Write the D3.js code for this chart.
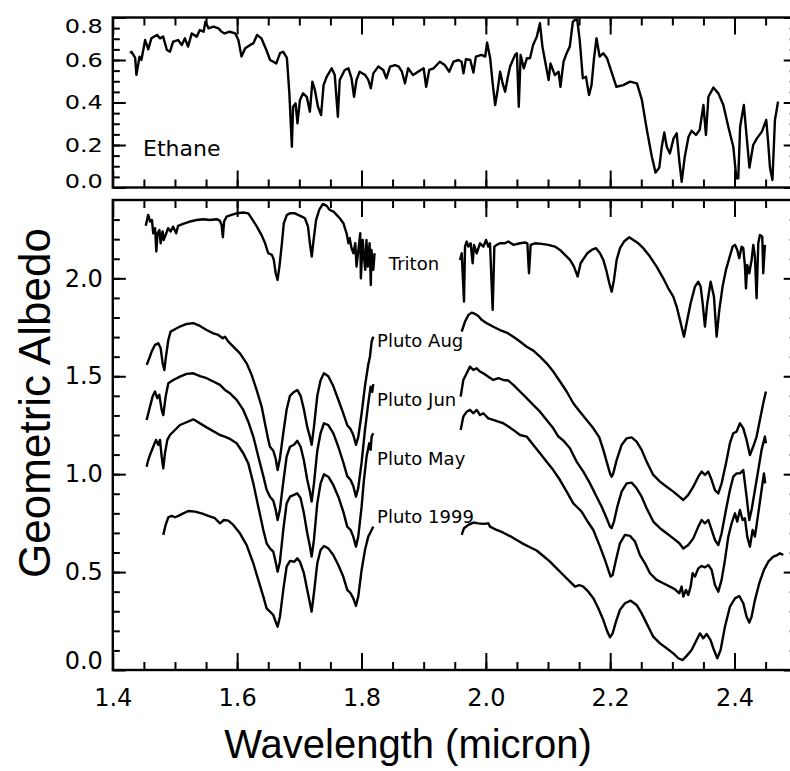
<!DOCTYPE html>
<html>
<head>
<meta charset="utf-8">
<script src="https://cdn.jsdelivr.net/npm/d3@7"></script>
<style>
  body { margin: 0; background: #fff; }
  svg  { display: block; }
</style>
</head>
<body>
<svg id="chart"></svg>
<script>
/* ── Ticks ── */
const xMajor     = [1.4, 1.6, 1.8, 2.0, 2.2, 2.4];
const topYMajor  = [0.0, 0.2, 0.4, 0.6, 0.8];
const botYMajor  = [0.0, 0.5, 1.0, 1.5, 2.0];

/* ── Spectra: [wavelength (micron), geometric albedo] ── */
const ethane = [
  [1.428,0.632],[1.430,0.639],[1.436,0.610],[1.438,0.530],[1.443,0.616],[1.446,0.600],[1.452,0.694],[1.457,0.650],
  [1.462,0.702],[1.471,0.718],[1.476,0.702],[1.481,0.710],[1.487,0.647],[1.492,0.639],[1.497,0.686],[1.505,0.694],
  [1.511,0.671],[1.516,0.702],[1.521,0.663],[1.527,0.725],[1.535,0.710],[1.540,0.741],[1.546,0.733],[1.549,0.780],
  [1.554,0.749],[1.562,0.757],[1.570,0.749],[1.575,0.733],[1.580,0.725],[1.588,0.733],[1.597,0.725],[1.602,0.694],
  [1.607,0.616],[1.613,0.655],[1.621,0.671],[1.626,0.678],[1.632,0.718],[1.639,0.702],[1.647,0.647],[1.653,0.600],
  [1.663,0.584],[1.669,0.632],[1.674,0.639],[1.680,0.610],[1.684,0.443],[1.688,0.192],[1.690,0.380],[1.694,0.396],
  [1.697,0.302],[1.701,0.412],[1.706,0.443],[1.712,0.427],[1.717,0.357],[1.721,0.498],[1.725,0.459],[1.730,0.380],
  [1.735,0.341],[1.739,0.482],[1.744,0.521],[1.752,0.561],[1.757,0.529],[1.762,0.333],[1.765,0.506],[1.773,0.553],
  [1.779,0.561],[1.784,0.514],[1.788,0.427],[1.792,0.506],[1.797,0.545],[1.806,0.529],[1.811,0.506],[1.815,0.467],
  [1.819,0.537],[1.827,0.569],[1.835,0.553],[1.840,0.514],[1.846,0.569],[1.854,0.576],[1.860,0.569],[1.865,0.545],
  [1.870,0.490],[1.875,0.561],[1.883,0.529],[1.891,0.545],[1.900,0.561],[1.904,0.474],[1.909,0.553],[1.916,0.561],
  [1.926,0.592],[1.934,0.576],[1.941,0.545],[1.948,0.592],[1.956,0.600],[1.961,0.592],[1.964,0.537],[1.968,0.604],
  [1.975,0.600],[1.980,0.541],[1.984,0.616],[1.993,0.624],[1.999,0.616],[2.002,0.682],[2.007,0.608],[2.011,0.490],
  [2.015,0.388],[2.019,0.459],[2.023,0.545],[2.027,0.490],[2.031,0.451],[2.035,0.514],[2.039,0.569],[2.047,0.624],
  [2.050,0.632],[2.053,0.380],[2.056,0.624],[2.061,0.561],[2.066,0.608],[2.071,0.608],[2.076,0.671],[2.082,0.710],
  [2.087,0.773],[2.091,0.663],[2.095,0.600],[2.101,0.506],[2.104,0.584],[2.111,0.529],[2.117,0.545],[2.120,0.474],
  [2.125,0.592],[2.130,0.632],[2.135,0.663],[2.140,0.780],[2.143,0.788],[2.147,0.790],[2.151,0.694],[2.156,0.514],
  [2.161,0.521],[2.166,0.435],[2.170,0.482],[2.174,0.608],[2.178,0.702],[2.183,0.616],[2.189,0.632],[2.195,0.608],
  [2.202,0.545],[2.210,0.474],[2.221,0.482],[2.232,0.498],[2.243,0.490],[2.251,0.412],[2.259,0.271],[2.267,0.145],
  [2.273,0.070],[2.279,0.094],[2.283,0.192],[2.287,0.259],[2.291,0.192],[2.296,0.160],[2.302,0.231],[2.307,0.255],
  [2.311,0.130],[2.315,0.027],[2.320,0.145],[2.326,0.239],[2.331,0.267],[2.338,0.247],[2.344,0.271],[2.350,0.388],
  [2.354,0.247],[2.358,0.427],[2.366,0.470],[2.374,0.443],[2.382,0.388],[2.390,0.286],[2.398,0.192],[2.403,0.043],
  [2.406,0.043],[2.409,0.286],[2.415,0.388],[2.419,0.255],[2.424,0.094],[2.430,0.200],[2.436,0.231],[2.444,0.263],
  [2.451,0.318],[2.454,0.216],[2.457,0.094],[2.461,0.035],[2.465,0.318],[2.470,0.404]
];

const tritonA = [
  [1.453,2.268],[1.457,2.324],[1.460,2.290],[1.463,2.298],[1.465,2.230],[1.468,2.256],[1.470,2.137],[1.472,2.230],
  [1.475,2.247],[1.477,2.179],[1.480,2.239],[1.482,2.196],[1.486,2.230],[1.489,2.256],[1.493,2.239],[1.497,2.264],
  [1.502,2.230],[1.505,2.268],[1.513,2.278],[1.524,2.290],[1.535,2.298],[1.546,2.302],[1.556,2.298],[1.567,2.302],
  [1.572,2.295],[1.575,2.273],[1.577,2.210],[1.579,2.290],[1.583,2.315],[1.591,2.324],[1.599,2.332],[1.610,2.336],
  [1.618,2.332],[1.623,2.307],[1.631,2.268],[1.639,2.222],[1.645,2.179],[1.650,2.128],[1.656,2.120],[1.659,2.094],
  [1.662,2.026],[1.665,1.992],[1.668,2.060],[1.672,2.179],[1.675,2.281],[1.680,2.324],[1.685,2.332],[1.693,2.332],
  [1.698,2.324],[1.704,2.315],[1.709,2.307],[1.714,2.264],[1.717,2.179],[1.720,2.111],[1.723,2.196],[1.727,2.298],
  [1.732,2.349],[1.738,2.380],[1.744,2.370],[1.749,2.349],[1.755,2.341],[1.760,2.324],[1.765,2.307],[1.771,2.281],
  [1.776,2.230],[1.779,2.179],[1.781,2.205],[1.784,2.154],[1.787,2.128],[1.790,2.179],[1.792,2.060],[1.795,2.145],
  [1.798,2.230],[1.799,2.000],[1.802,2.196],[1.804,2.111],[1.806,2.043],[1.808,2.196],[1.810,2.060],[1.813,2.179],
  [1.815,1.966],[1.816,2.145],[1.819,2.043],[1.821,2.128]
];
const tritonB = [
  [1.9585,2.094],[1.9612,2.128],[1.9649,1.881],[1.9665,2.162],[1.9692,2.188],[1.9719,2.162],[1.9756,2.179],[1.9788,2.077],
  [1.9810,2.171],[1.9853,2.128],[1.9906,2.179],[1.9960,2.162],[2.0003,2.196],[2.0040,2.162],[2.0067,2.179],[2.0110,1.839],
  [2.0137,2.162],[2.0174,2.171],[2.0228,2.179],[2.0308,2.179],[2.0362,2.188],[2.0442,2.171],[2.0550,2.179],[2.0630,2.183],
  [2.0668,2.179],[2.0694,2.026],[2.0721,2.171],[2.0791,2.179],[2.0898,2.176],[2.1005,2.171],[2.1112,2.162],[2.1193,2.145],
  [2.1273,2.120],[2.1354,2.094],[2.1418,2.060],[2.1477,2.009],[2.1525,2.077],[2.1579,2.103],[2.1632,2.128],[2.1702,2.145],
  [2.1772,2.154],[2.1836,2.128],[2.1890,2.094],[2.1943,2.034],[2.1986,1.975],[2.2024,1.932],[2.2061,1.992],[2.2104,2.094],
  [2.2158,2.154],[2.2222,2.188],[2.2308,2.210],[2.2372,2.196],[2.2452,2.179],[2.2533,2.154],[2.2640,2.111],[2.2747,2.060],
  [2.2854,2.000],[2.2935,1.949],[2.3015,1.907],[2.3069,1.856],[2.3122,1.788],[2.3187,1.702],[2.3240,1.788],[2.3294,1.873],
  [2.3364,1.958],[2.3417,1.983],[2.3455,1.958],[2.3487,1.873],[2.3524,1.754],[2.3562,1.873],[2.3616,1.983],[2.3669,1.907],
  [2.3712,1.702],[2.3755,1.839],[2.3808,1.958],[2.3862,2.043],[2.3916,2.103],[2.3969,2.162],[2.4007,2.171],[2.4044,2.145],
  [2.4076,2.103],[2.4114,2.162],[2.4141,2.154],[2.4168,2.060],[2.4184,1.949],[2.4205,2.068],[2.4237,2.026],[2.4275,2.094],
  [2.4302,2.171],[2.4328,2.111],[2.4355,1.898],[2.4382,2.179],[2.4409,2.222],[2.4446,2.213],[2.4462,2.026],[2.4489,2.171]
];

const plutoAugA = [
  [1.4545,1.558],[1.4587,1.592],[1.4625,1.626],[1.4678,1.660],[1.4732,1.668],[1.4770,1.643],[1.4802,1.566],[1.4829,1.532],
  [1.4855,1.600],[1.4893,1.685],[1.4930,1.728],[1.5000,1.740],[1.5080,1.754],[1.5188,1.767],[1.5295,1.771],[1.5402,1.757],
  [1.5509,1.736],[1.5617,1.719],[1.5697,1.711],[1.5767,1.694],[1.5804,1.702],[1.5858,1.677],[1.5938,1.651],[1.6045,1.617],
  [1.6153,1.566],[1.6233,1.507],[1.6313,1.430],[1.6394,1.345],[1.6447,1.260],[1.6501,1.175],[1.6528,1.140],[1.6581,1.120],
  [1.6619,1.080],[1.6651,1.021],[1.6688,1.080],[1.6742,1.210],[1.6796,1.330],[1.6850,1.400],[1.6914,1.420],[1.6967,1.430],
  [1.7021,1.400],[1.7074,1.330],[1.7128,1.240],[1.7171,1.190],[1.7198,1.150],[1.7235,1.240],[1.7289,1.400],[1.7342,1.480],
  [1.7396,1.515],[1.7466,1.500],[1.7546,1.450],[1.7627,1.380],[1.7707,1.310],[1.7771,1.250],[1.7825,1.230],[1.7868,1.200],
  [1.7911,1.150],[1.7948,1.190],[1.8002,1.310],[1.8056,1.450],[1.8109,1.560],[1.8136,1.600],[1.8163,1.677],[1.8190,1.702]
];
const plutoAugB = [
  [1.9611,1.728],[1.9665,1.779],[1.9719,1.813],[1.9772,1.825],[1.9826,1.818],[1.9879,1.808],[1.9933,1.788],[2.0013,1.771],
  [2.0120,1.753],[2.0228,1.736],[2.0335,1.723],[2.0442,1.702],[2.0549,1.677],[2.0657,1.651],[2.0764,1.631],[2.0871,1.600],
  [2.0978,1.566],[2.1085,1.524],[2.1193,1.473],[2.1300,1.422],[2.1407,1.362],[2.1514,1.319],[2.1621,1.277],[2.1729,1.234],
  [2.1825,1.188],[2.1890,1.124],[2.1943,1.064],[2.1997,1.004],[2.2023,0.987],[2.2050,1.004],[2.2104,1.072],[2.2184,1.149],
  [2.2265,1.183],[2.2345,1.188],[2.2425,1.166],[2.2506,1.124],[2.2586,1.064],[2.2693,0.996],[2.2801,0.962],[2.2908,0.936],
  [2.3015,0.911],[2.3112,0.885],[2.3176,0.868],[2.3256,0.894],[2.3337,0.936],[2.3417,0.987],[2.3471,1.013],[2.3524,0.996],
  [2.3578,1.013],[2.3632,0.970],[2.3685,0.919],[2.3739,0.902],[2.3792,0.953],[2.3862,1.055],[2.3926,1.158],[2.3980,1.209],
  [2.4033,1.217],[2.4087,1.260],[2.4141,1.234],[2.4194,1.175],[2.4248,1.098],[2.4301,1.141],[2.4355,1.192],[2.4408,1.277],
  [2.4462,1.362],[2.4505,1.422]
];

const plutoJunA = [
  [1.4544,1.277],[1.4598,1.345],[1.4640,1.396],[1.4678,1.422],[1.4716,1.388],[1.4748,1.405],[1.4786,1.328],[1.4812,1.302],
  [1.4850,1.396],[1.4893,1.464],[1.4973,1.481],[1.5080,1.498],[1.5188,1.512],[1.5295,1.515],[1.5402,1.501],[1.5509,1.490],
  [1.5617,1.473],[1.5724,1.456],[1.5804,1.430],[1.5885,1.413],[1.5992,1.379],[1.6099,1.328],[1.6179,1.268],[1.6260,1.192],
  [1.6340,1.090],[1.6421,0.990],[1.6474,0.920],[1.6528,0.885],[1.6581,0.865],[1.6619,0.820],[1.6651,0.766],[1.6688,0.820],
  [1.6742,0.960],[1.6796,1.090],[1.6850,1.140],[1.6914,1.150],[1.6967,1.170],[1.7021,1.140],[1.7074,1.070],[1.7128,0.970],
  [1.7171,0.910],[1.7198,0.860],[1.7235,0.950],[1.7289,1.120],[1.7342,1.210],[1.7396,1.260],[1.7466,1.250],[1.7546,1.210],
  [1.7627,1.140],[1.7707,1.060],[1.7771,0.990],[1.7825,0.970],[1.7868,0.940],[1.7911,0.885],[1.7948,0.930],[1.8002,1.060],
  [1.8056,1.226],[1.8109,1.362],[1.8147,1.447],[1.8173,1.420],[1.8190,1.460]
];
const plutoJunB = [
  [1.9595,1.396],[1.9638,1.481],[1.9692,1.515],[1.9745,1.549],[1.9799,1.532],[1.9853,1.541],[1.9906,1.524],[1.9960,1.515],
  [2.0040,1.498],[2.0120,1.481],[2.0201,1.490],[2.0281,1.481],[2.0362,1.478],[2.0442,1.456],[2.0549,1.422],[2.0657,1.388],
  [2.0764,1.353],[2.0871,1.319],[2.0978,1.277],[2.1085,1.234],[2.1166,1.192],[2.1246,1.172],[2.1353,1.132],[2.1460,1.064],
  [2.1568,1.013],[2.1675,0.953],[2.1782,0.885],[2.1863,0.834],[2.1943,0.775],[2.1997,0.732],[2.2023,0.724],[2.2061,0.758],
  [2.2115,0.834],[2.2184,0.911],[2.2265,0.953],[2.2345,0.957],[2.2425,0.928],[2.2506,0.885],[2.2586,0.826],[2.2693,0.758],
  [2.2801,0.724],[2.2908,0.698],[2.3015,0.672],[2.3112,0.647],[2.3176,0.621],[2.3256,0.638],[2.3337,0.672],[2.3417,0.732],
  [2.3471,0.766],[2.3524,0.749],[2.3578,0.766],[2.3632,0.715],[2.3685,0.664],[2.3739,0.638],[2.3792,0.698],[2.3862,0.817],
  [2.3926,0.919],[2.3980,0.987],[2.4033,1.004],[2.4087,1.004],[2.4141,1.021],[2.4194,0.885],[2.4237,0.766],[2.4274,0.817],
  [2.4328,0.919],[2.4382,1.021],[2.4435,1.124],[2.4489,1.192],[2.4505,1.158]
];

const plutoMayA = [
  [1.4544,1.038],[1.4570,1.072],[1.4609,1.107],[1.4652,1.141],[1.4695,1.175],[1.4732,1.149],[1.4759,1.175],[1.4786,1.090],
  [1.4812,1.030],[1.4839,1.107],[1.4877,1.175],[1.4919,1.200],[1.5080,1.251],[1.5295,1.280],[1.5509,1.239],[1.5724,1.200],
  [1.5800,1.192],[1.5885,1.180],[1.5992,1.158],[1.6099,1.107],[1.6179,1.055],[1.6260,0.953],[1.6340,0.834],[1.6421,0.715],
  [1.6474,0.647],[1.6528,0.621],[1.6581,0.604],[1.6619,0.553],[1.6651,0.502],[1.6688,0.553],[1.6742,0.715],[1.6796,0.851],
  [1.6850,0.885],[1.6914,0.894],[1.6967,0.902],[1.7021,0.877],[1.7074,0.800],[1.7128,0.698],[1.7171,0.630],[1.7198,0.579],
  [1.7235,0.664],[1.7289,0.851],[1.7342,0.953],[1.7396,0.999],[1.7466,0.987],[1.7546,0.945],[1.7627,0.885],[1.7707,0.809],
  [1.7771,0.732],[1.7825,0.715],[1.7868,0.681],[1.7911,0.630],[1.7948,0.681],[1.8002,0.834],[1.8039,0.970],[1.8082,1.090],
  [1.8125,1.158],[1.8147,1.124],[1.8163,1.192],[1.8190,1.209]
];
const plutoMayB = [
  [1.9595,1.226],[1.9638,1.294],[1.9692,1.319],[1.9745,1.328],[1.9799,1.311],[1.9853,1.328],[1.9906,1.302],[1.9960,1.311],
  [2.0040,1.285],[2.0120,1.277],[2.0201,1.268],[2.0281,1.260],[2.0362,1.243],[2.0442,1.226],[2.0549,1.200],[2.0657,1.192],
  [2.0764,1.149],[2.0871,1.107],[2.0978,1.064],[2.1085,1.021],[2.1193,0.970],[2.1300,0.911],[2.1407,0.851],[2.1487,0.826],
  [2.1541,0.809],[2.1621,0.766],[2.1729,0.715],[2.1836,0.630],[2.1916,0.562],[2.1970,0.511],[2.2007,0.477],[2.2039,0.485],
  [2.2093,0.562],[2.2157,0.647],[2.2238,0.690],[2.2318,0.685],[2.2399,0.656],[2.2479,0.587],[2.2560,0.545],[2.2640,0.494],
  [2.2747,0.460],[2.2854,0.443],[2.2961,0.426],[2.3042,0.412],[2.3112,0.392],[2.3149,0.426],[2.3176,0.375],[2.3219,0.409],
  [2.3256,0.383],[2.3294,0.426],[2.3326,0.494],[2.3364,0.477],[2.3417,0.519],[2.3471,0.531],[2.3524,0.524],[2.3578,0.536],
  [2.3632,0.511],[2.3685,0.434],[2.3739,0.400],[2.3792,0.460],[2.3846,0.562],[2.3900,0.681],[2.3953,0.749],[2.4007,0.800],
  [2.4044,0.758],[2.4087,0.817],[2.4130,0.766],[2.4167,0.775],[2.4205,0.681],[2.4248,0.630],[2.4291,0.715],[2.4328,0.681],
  [2.4382,0.800],[2.4435,0.919],[2.4473,1.004],[2.4494,0.953]
];

const pluto1999A = [
  [1.4812,0.690],[1.4850,0.741],[1.4893,0.780],[1.4946,0.787],[1.5000,0.780],[1.5054,0.787],[1.5134,0.800],[1.5214,0.812],
  [1.5322,0.809],[1.5429,0.800],[1.5536,0.787],[1.5643,0.775],[1.5724,0.749],[1.5788,0.766],[1.5858,0.763],[1.5938,0.741],
  [1.6045,0.698],[1.6153,0.638],[1.6260,0.545],[1.6340,0.460],[1.6421,0.375],[1.6474,0.315],[1.6528,0.298],[1.6581,0.281],
  [1.6619,0.247],[1.6651,0.221],[1.6688,0.272],[1.6742,0.409],[1.6796,0.528],[1.6850,0.557],[1.6920,0.553],[1.6967,0.570],
  [1.7010,0.553],[1.7074,0.494],[1.7128,0.409],[1.7171,0.341],[1.7198,0.298],[1.7235,0.392],[1.7289,0.545],[1.7342,0.613],
  [1.7396,0.633],[1.7466,0.621],[1.7546,0.587],[1.7627,0.536],[1.7707,0.477],[1.7771,0.409],[1.7825,0.392],[1.7868,0.366],
  [1.7911,0.327],[1.7948,0.375],[1.8002,0.511],[1.8056,0.613],[1.8109,0.681],[1.8163,0.715],[1.8190,0.732]
];
const pluto1999B = [
  [1.9611,0.690],[1.9649,0.724],[1.9719,0.741],[1.9800,0.753],[1.9880,0.749],[1.9960,0.746],[2.0040,0.749],[2.0067,0.732],
  [2.0174,0.715],[2.0281,0.701],[2.0389,0.684],[2.0496,0.664],[2.0603,0.644],[2.0710,0.627],[2.0817,0.610],[2.0925,0.582],
  [2.1032,0.553],[2.1139,0.519],[2.1246,0.485],[2.1353,0.451],[2.1434,0.426],[2.1504,0.434],[2.1568,0.426],[2.1648,0.400],
  [2.1729,0.366],[2.1809,0.315],[2.1890,0.255],[2.1954,0.196],[2.1997,0.167],[2.2039,0.187],[2.2093,0.247],[2.2157,0.307],
  [2.2238,0.341],[2.2329,0.354],[2.2425,0.332],[2.2506,0.289],[2.2586,0.238],[2.2693,0.170],[2.2801,0.136],[2.2908,0.111],
  [2.3015,0.085],[2.3096,0.060],[2.3166,0.051],[2.3230,0.072],[2.3310,0.102],[2.3390,0.153],[2.3444,0.187],[2.3498,0.162],
  [2.3551,0.184],[2.3615,0.153],[2.3669,0.102],[2.3723,0.060],[2.3776,0.102],[2.3846,0.221],[2.3926,0.323],[2.4007,0.366],
  [2.4076,0.378],[2.4141,0.341],[2.4194,0.272],[2.4237,0.242],[2.4274,0.272],[2.4328,0.357],[2.4398,0.443],[2.4473,0.511],
  [2.4543,0.553],[2.4623,0.579],[2.4687,0.587],[2.4730,0.596],[2.4784,0.587]
];

/* series name labels, anchored in data coords (left, baseline) */
const botLabels = [
  { text: 'Triton',     x: 1.844, y: 2.045 },
  { text: 'Pluto Aug',  x: 1.825, y: 1.650 },
  { text: 'Pluto Jun',  x: 1.825, y: 1.348 },
  { text: 'Pluto May',  x: 1.825, y: 1.047 },
  { text: 'Pluto 1999', x: 1.825, y: 0.751 },
];
const topLabel = { text: 'Ethane', x: 1.4486, y: 0.148 };

/* ── Layout ── */
const W = 790, H = 771;
const TICK_FONT = '"DejaVu Sans", Verdana, sans-serif';
const TITLE_FONT = '"Liberation Sans", Arial, Helvetica, sans-serif';

const svg = d3.select('#chart').attr('width', W).attr('height', H);

const x    = d3.scaleLinear().domain([1.4, 2.5]).range([112.8, 796.7]);
const yTop = d3.scaleLinear().domain([0, 0.8]).range([187.5, 17.5]);
const yBot = d3.scaleLinear().domain([0, 2.4]).range([670, 200]);

const xMinor = d3.range(1.45, 2.5, 0.05).map(v => +v.toFixed(2));

function drawPanel(id, y, yMajor, yMinor, xLabels) {
  const [yb, yt] = y.range();
  const [xl, xr] = x.range();
  const g = svg.append('g').attr('class', id);

  g.append('clipPath').attr('id', 'clip-' + id)
    .append('rect').attr('x', xl).attr('y', yt).attr('width', xr - xl).attr('height', yb - yt);

  const style = ax => {
    ax.select('.domain').remove();
    ax.selectAll('.tick line').attr('stroke', '#000').attr('stroke-width', 2);
  };

  // x ticks, bottom + top
  const xb = g.append('g').attr('transform', `translate(0,${yb})`)
    .call(d3.axisBottom(x).tickValues(xMajor).tickSizeInner(-17).tickSizeOuter(0).tickPadding(19)
      .tickFormat(xLabels ? d3.format('.1f') : ''))
    .call(style);
  xb.selectAll('text').attr('fill', '#000').attr('font-size', 24).attr('font-family', TICK_FONT);

  g.append('g').attr('transform', `translate(0,${yb})`)
    .call(d3.axisBottom(x).tickValues(xMinor).tickSize(-8).tickFormat('')).call(style);
  g.append('g').attr('transform', `translate(0,${yt})`)
    .call(d3.axisTop(x).tickValues(xMajor).tickSize(-17).tickFormat('')).call(style);
  g.append('g').attr('transform', `translate(0,${yt})`)
    .call(d3.axisTop(x).tickValues(xMinor).tickSize(-8).tickFormat('')).call(style);

  // y ticks, left + right
  const yl = g.append('g').attr('transform', `translate(${xl},0)`)
    .call(d3.axisLeft(y).tickValues(yMajor).tickSizeInner(-13).tickSizeOuter(0).tickPadding(10)
      .tickFormat(d3.format('.1f')))
    .call(style);
  yl.selectAll('text').attr('fill', '#000').attr('font-size', 24).attr('font-family', TICK_FONT);

  g.append('g').attr('transform', `translate(${xl},0)`)
    .call(d3.axisLeft(y).tickValues(yMinor).tickSize(-7).tickFormat('')).call(style);
  g.append('g').attr('transform', `translate(${xr},0)`)
    .call(d3.axisRight(y).tickValues(yMajor).tickSize(-13).tickFormat('')).call(style);
  g.append('g').attr('transform', `translate(${xr},0)`)
    .call(d3.axisRight(y).tickValues(yMinor).tickSize(-7).tickFormat('')).call(style);

  // frame
  g.append('rect')
    .attr('x', xl).attr('y', yt).attr('width', xr - xl).attr('height', yb - yt)
    .attr('fill', 'none').attr('stroke', '#000').attr('stroke-width', 2.4);

  return { g, yl };
}

const topPanel = drawPanel('top', yTop, topYMajor,
  d3.range(0.05, 0.8, 0.05).map(v => +v.toFixed(2)), false);
const botPanel = drawPanel('bot', yBot, botYMajor,
  d3.range(0.1, 2.4, 0.1).map(v => +v.toFixed(1)), true);

/* top panel labels are vertically squeezed; end labels pulled inside the frame */
topPanel.yl.selectAll('.tick text').attr('transform', d =>
  (d === 0.8 ? 'translate(0,9) ' : d === 0 ? 'translate(0,-6) ' : '') + 'scale(1,0.8)');
botPanel.yl.selectAll('.tick text').attr('transform', d => d === 0 ? 'translate(0,-9)' : null);

/* ── Spectra ── */
function plotLine(panel, id, y, data) {
  panel.g.append('path')
    .datum(data)
    .attr('clip-path', `url(#clip-${id})`)
    .attr('fill', 'none')
    .attr('stroke', '#000')
    .attr('stroke-width', 2.4)
    .attr('stroke-linejoin', 'round')
    .attr('d', d3.line().x(d => x(d[0])).y(d => y(d[1])));
}

plotLine(topPanel, 'top', yTop, ethane);
[tritonA, tritonB, plutoAugA, plutoAugB, plutoJunA, plutoJunB,
 plutoMayA, plutoMayB, pluto1999A, pluto1999B].forEach(s => plotLine(botPanel, 'bot', yBot, s));

/* ── Series labels ── */
topPanel.g.append('text')
  .attr('x', x(topLabel.x)).attr('y', yTop(topLabel.y))
  .attr('font-size', 22).attr('font-family', TICK_FONT).attr('fill', '#000')
  .text(topLabel.text);

botPanel.g.selectAll('text.series')
  .data(botLabels)
  .join('text')
  .attr('class', 'series')
  .attr('x', d => x(d.x)).attr('y', d => yBot(d.y))
  .attr('font-size', 18).attr('font-family', TICK_FONT).attr('fill', '#000')
  .text(d => d.text);

/* ── Axis titles ── */
svg.append('text')
  .attr('x', 408).attr('y', 758)
  .attr('text-anchor', 'middle')
  .attr('font-size', 40).attr('font-family', TITLE_FONT).attr('fill', '#000')
  .text('Wavelength (micron)');

svg.append('text')
  .attr('transform', 'translate(50,403) rotate(-90)')
  .attr('text-anchor', 'middle')
  .attr('font-size', 44).attr('font-family', TITLE_FONT).attr('fill', '#000')
  .text('Geometric Albedo');
</script>
</body>
</html>
